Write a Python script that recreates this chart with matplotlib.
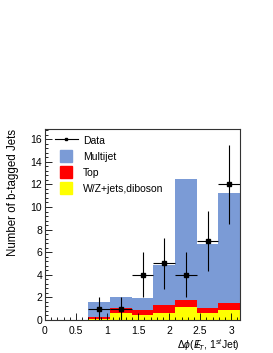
import numpy as np
import matplotlib.pyplot as plt
from matplotlib.lines import Line2D
from matplotlib.ticker import MultipleLocator, FuncFormatter

plt.rcParams['font.family'] = ['Liberation Sans', 'DejaVu Sans']
plt.rcParams['mathtext.fontset'] = 'custom'
plt.rcParams['mathtext.rm'] = 'Liberation Sans'
plt.rcParams['mathtext.it'] = 'Liberation Sans:italic'

# 9 bins of dphi from 0 to pi
bin_edges = np.linspace(0, np.pi, 10)
wz_jets = [0, 0, 0.10, 0.59, 0.44, 0.59, 1.12, 0.59, 0.86]
top = [0, 0, 0.20, 0.44, 0.44, 0.71, 0.62, 0.50, 0.62]
multijet = [0, 0, 1.27, 1.03, 1.04, 3.57, 10.71, 5.66, 9.79]
data = [0, 0, 1, 1, 4, 5, 4, 7, 12]

c_mj = '#7b9bd6'
c_top = '#ff0000'
c_wz = '#ffff00'

fig = plt.figure(figsize=(2.73, 3.53), dpi=100)
ax = fig.add_axes([45/273, 33/353, 195/273, 191/353])

left = bin_edges[:-1]
width = np.diff(bin_edges)
wz = np.array(wz_jets)
tp = np.array(top)
mj = np.array(multijet)
ax.bar(left, wz, width=width, align='edge', color=c_wz, lw=0)
ax.bar(left, tp, width=width, bottom=wz, align='edge', color=c_top, lw=0)
ax.bar(left, mj, width=width, bottom=wz + tp, align='edge', color=c_mj, lw=0)

d = np.array(data, dtype=float)
centers = 0.5 * (bin_edges[:-1] + bin_edges[1:])
m = d > 0
ax.errorbar(centers[m], d[m], xerr=width[m] / 2, yerr=np.sqrt(d[m]),
            fmt='s', ms=2.2, color='k', lw=0.8, capsize=0)

ax.set_xlim(0, np.pi)
ax.set_ylim(0, 16.9)
ax.xaxis.set_major_locator(MultipleLocator(0.5))
ax.xaxis.set_minor_locator(MultipleLocator(0.1))
ax.xaxis.set_major_formatter(FuncFormatter(lambda v, p: f'{v:g}'))
ax.yaxis.set_major_locator(MultipleLocator(2))
ax.yaxis.set_minor_locator(MultipleLocator(0.4))
ax.tick_params(which='both', direction='in', labelsize=7.5, width=0.6)
ax.tick_params(which='major', length=5)
ax.tick_params(which='minor', length=2.5)
ax.tick_params(axis='x', pad=4)
ax.tick_params(axis='y', pad=2)
for s in ax.spines.values():
    s.set_linewidth(0.8)
    s.set_color('#333333')

ax.set_ylabel('Number of b-tagged Jets', fontsize=8.3, ha='right')
ax.yaxis.set_label_coords(-0.135, 1.0)
ax.set_xlabel(r'$\Delta\phi$($E\!\!\!/_{T}$, 1$^{st}$Jet)', fontsize=7.5, ha='right')
ax.xaxis.set_label_coords(1.0, -0.09)

handles = [Line2D([], [], color='k', marker='s', ms=2, lw=0.8),
           Line2D([], [], color=c_mj, marker='s', ms=8, ls='none'),
           Line2D([], [], color=c_top, marker='s', ms=8, ls='none'),
           Line2D([], [], color=c_wz, marker='s', ms=8, ls='none')]
labels = ['Data', 'Multijet', 'Top', 'W/Z+jets,diboson']
ax.legend(handles, labels, loc='upper left', bbox_to_anchor=(0.03, 0.99),
          frameon=False, fontsize=7.5, handlelength=2.2, handleheight=1.1,
          labelspacing=0.55, borderaxespad=0, handletextpad=0.5)

fig.savefig('out.png', dpi=100)
